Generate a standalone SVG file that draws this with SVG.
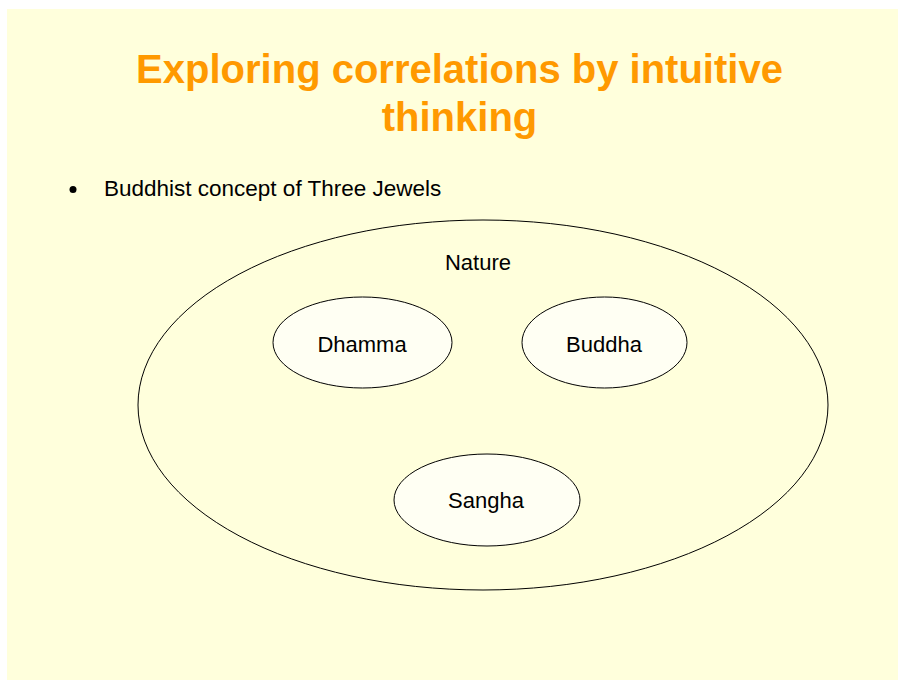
<svg xmlns="http://www.w3.org/2000/svg" width="898" height="680" viewBox="0 0 898 680">
<style>
.title{font-family:"Liberation Sans",Arial,sans-serif;font-weight:bold;font-size:40px;fill:#FF9900;text-anchor:middle}
.txt{font-family:"Liberation Sans",Arial,sans-serif;font-size:22.5px;fill:#000}
.lbl{font-family:"Liberation Sans",Arial,sans-serif;font-size:22px;fill:#000;text-anchor:middle}
.outer{fill:#FFFFDC;stroke:#000;stroke-width:1}
.inner{fill:#FFFFF3;stroke:#000;stroke-width:1}
</style>
<rect x="0" y="0" width="898" height="680" fill="#FFFFFF"/>
<rect x="7" y="9" width="891" height="671" fill="#FFFFDC"/>
<text class="title" x="459.5" y="83">Exploring correlations by intuitive</text>
<text class="title" x="459.5" y="131">thinking</text>
<circle cx="73" cy="189.5" r="3.5" fill="#000"/>
<text class="txt" x="104" y="196">Buddhist concept of Three Jewels</text>
<g id="nature">
<ellipse class="outer" cx="483" cy="405" rx="345" ry="185"/>
<text class="lbl" x="478" y="270">Nature</text>
</g>
<g id="dhamma">
<ellipse class="inner" cx="362.5" cy="342.5" rx="89.5" ry="45.5"/>
<text class="lbl" x="362" y="352">Dhamma</text>
</g>
<g id="buddha">
<ellipse class="inner" cx="604.5" cy="342.5" rx="82.5" ry="45.5"/>
<text class="lbl" x="604" y="352">Buddha</text>
</g>
<g id="sangha">
<ellipse class="inner" cx="487" cy="500" rx="93" ry="46"/>
<text class="lbl" x="486" y="508">Sangha</text>
</g>
<g id="connectors"></g>
</svg>
